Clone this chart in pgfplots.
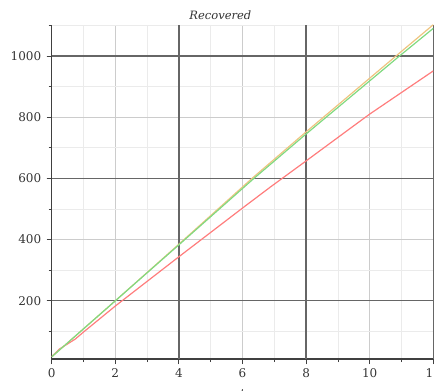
\documentclass[border=0pt]{standalone}
\usepackage{fontspec}
\setmainfont{DejaVu Serif}
\usepackage{pgfplots}
\pgfplotsset{compat=1.18}
\definecolor{cOr}{RGB}{238,196,128}
\definecolor{cGr}{RGB}{128,218,128}
\definecolor{cRd}{RGB}{255,125,125}
\begin{document}
\begin{tikzpicture}
\begin{axis}[name=ax,
  scale only axis, width=381.6pt, height=334pt,
  xmin=0, xmax=12, ymin=10, ymax=1101,
  enlargelimits=false,
  axis lines=left,
  axis line style={-, line width=1.1pt, black!75},
  xtick={0,2,...,12}, minor xtick={1,3,...,11},
  ytick={200,400,...,1000}, minor ytick={100,300,...,1100},
  tick align=outside,
  major tick length=5pt, minor tick length=3pt,
  tick style={black!75, line width=0.8pt},
  grid=both,
  major grid style={draw=black!20, line width=1pt},
  minor grid style={draw=black!8, line width=0.8pt},
  extra x ticks={4,8,12}, extra x tick labels={},
  extra y ticks={200,600,1000}, extra y tick labels={},
  extra tick style={grid=major, major grid style={draw=black!60, line width=1.3pt}},
  /pgf/number format/assume math mode=true,
  /pgf/number format/1000 sep={},
  tick label style={font=\fontsize{12}{14}\selectfont, text=black!80},
  xticklabel style={yshift=-1pt},
  yticklabel style={xshift=-2pt},
  title={\itshape Recovered},
  title style={at={(0.442,1)}, anchor=base, yshift=-1pt, font=\fontsize{11.5}{13}\selectfont, text=black!80},
  xlabel={\itshape t},
  xlabel style={at={(0.5,0)}, anchor=north, yshift=-27pt, font=\fontsize{11.5}{13}\selectfont, text=black!80},
]
\addplot[cRd, line width=1.2pt] coordinates {(0,18) (0.25,43) (0.74,75) (1,98) (2,183) (4,344) (6,503) (6.88,572) (8,657) (9.41,765) (10,810) (12,951)};
\addplot[cOr, line width=1.2pt] coordinates {(0,17) (2,200) (4,385) (6.3,600) (8,752) (10.83,1000) (12,1102)};
\addplot[cGr, line width=1.2pt] coordinates {(0,17) (2,200) (4,383) (6.36,600) (8,745) (10.94,1000) (12,1090)};
\end{axis}
\pgfresetboundingbox
\path ([xshift=-51.7pt,yshift=-32pt]ax.south west) rectangle ([xshift=0.7pt,yshift=25pt]ax.north east);
\end{tikzpicture}
\end{document}
